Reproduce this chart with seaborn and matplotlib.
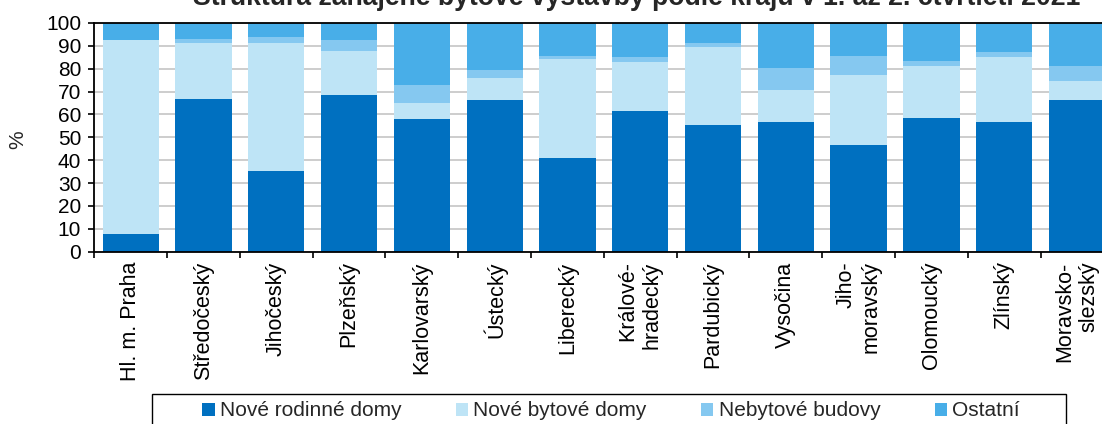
import numpy as np
import pandas as pd
import matplotlib
matplotlib.use("Agg")
import matplotlib.pyplot as plt
import seaborn as sns
from matplotlib.patches import Patch, Rectangle

# Struktura zahajene bytove vystavby podle kraju (%)

kraje = ["Hl. m. Praha", "Středočeský", "Jihočeský", "Plzeňský", "Karlovarský",
         "Ústecký", "Liberecký", "Králové-\nhradecký", "Pardubický", "Vysočina",
         "Jiho-\nmoravský", "Olomoucký", "Zlínský", "Moravsko-\nslezský"]

rodinne = [7.9, 66.8, 35.3, 68.5, 58.0, 66.5, 41.0, 61.5, 55.5, 56.7, 46.8, 58.6, 56.8, 66.3]
bytove = [84.5, 24.5, 56.0, 19.1, 7.0, 9.5, 43.4, 21.4, 34.0, 13.9, 30.3, 22.7, 28.5, 8.5]
nebytove = [0.2, 1.7, 2.6, 5.0, 7.9, 3.4, 1.3, 2.1, 1.8, 9.6, 8.5, 2.1, 2.0, 6.3]
ostatni = [7.4, 7.0, 6.1, 7.4, 27.1, 20.6, 14.3, 15.0, 8.7, 19.8, 14.4, 16.6, 12.7, 18.9]

series = ["Nové rodinné domy", "Nové bytové domy", "Nebytové budovy", "Ostatní"]
colors = ["#0070C0", "#BEE4F6", "#85C8F0", "#48AEE8"]

title = "Struktura zahájené bytové výstavby podle krajů v 1. až 2. čtvrtletí 2021"

df = pd.DataFrame({"kraj": kraje,
                   series[0]: rodinne,
                   series[1]: bytove,
                   series[2]: nebytove,
                   series[3]: ostatni})

sns.set_theme(style="ticks")
plt.rcParams["font.family"] = ["Liberation Sans", "DejaVu Sans"]

fig = plt.figure(figsize=(11.02, 4.24), dpi=100)
ax = fig.add_axes([0.0856, 0.4064, 0.9247, 0.5394])

# stacked bars
bottom = np.zeros(len(kraje))
for name, col in zip(series, colors):
    sns.barplot(data=df, x="kraj", y=name, color=col, saturation=1,
                bottom=bottom, width=0.773, errorbar=None, linewidth=0, ax=ax)
    bottom = bottom + df[name].values

ax.set_xlim(-0.5, 13.5)
ax.set_ylim(0, 100)
ax.set_yticks(range(0, 101, 10))
ax.yaxis.grid(True, color="#C0C0C0", linewidth=1.1)
ax.set_axisbelow(True)
ax.set_xlabel("")
ax.set_ylabel("")

ax.set_xticks(range(len(kraje)))
ax.set_xticklabels(kraje, rotation=90, fontsize=15.5, va="top", ha="center",
                   multialignment="right", color="black")
ax.set_xticks(np.arange(-0.5, len(kraje), 1), minor=True)
ax.tick_params(axis="x", which="major", length=0, pad=7)
ax.tick_params(axis="x", which="minor", length=4.5, width=1.2, color="black")
ax.tick_params(axis="y", length=4.5, width=1.2, color="black", labelsize=15,
               labelcolor="black", pad=5)

for sp in ax.spines.values():
    sp.set_visible(True)
    sp.set_color("black")
    sp.set_linewidth(1.3)

fig.text(18 / 1102, 1 - 140 / 424, "%", rotation=90, ha="center", va="center",
         fontsize=15)

# title is cropped at the top edge, as in the source image
fig.text(637 / 1102, 1 - 5 / 424, title, ha="center", va="baseline",
         fontsize=19.2, fontweight="bold")

# legend
handles = [Patch(facecolor=c, edgecolor="none") for c in colors]
fig.legend(handles, series, loc="center", bbox_to_anchor=(611 / 1102, 1 - 411 / 424),
           ncol=4, frameon=False, fontsize=15, handlelength=0.6, handleheight=0.6,
           handletextpad=0.25, columnspacing=2.6, borderaxespad=0)
fig.add_artist(Rectangle((152 / 1102, -0.05), (1066 - 152) / 1102, 0.05 + 1 - 394 / 424,
                         transform=fig.transFigure, fill=False, edgecolor="black",
                         linewidth=1.0))

fig.savefig("out.png", dpi=100)
